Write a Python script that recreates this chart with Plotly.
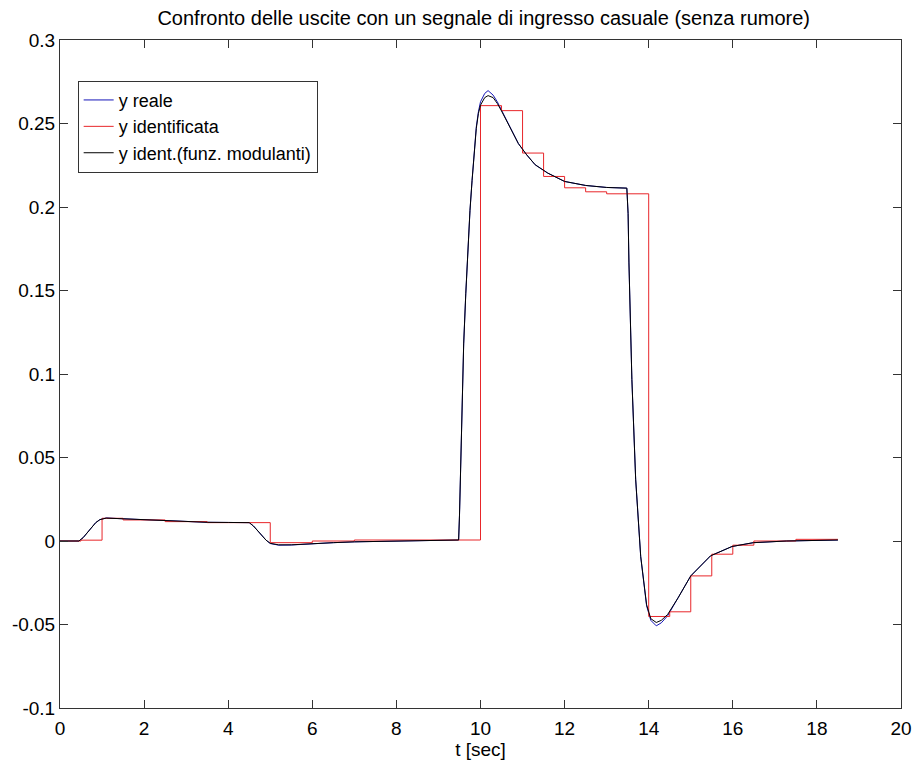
import plotly.graph_objects as go

# ---------------- data ----------------
t_curve = [0.0, 0.45, 0.55, 0.65, 0.75, 0.85, 0.95, 1.1, 1.5, 2.0, 2.5, 3.0, 3.5, 4.0, 4.5,
           4.6, 4.7, 4.8, 4.9, 5.0, 5.2, 5.5, 6.0, 6.5, 7.0, 8.0, 9.0, 9.48,
           9.5, 9.55, 9.6, 9.65, 9.7, 9.75, 9.8, 9.85, 9.9, 9.95, 10.0, 10.1, 10.18, 10.3,
           10.4, 10.5, 10.7, 10.9, 11.1, 11.3, 11.6, 12.0, 12.5, 13.0, 13.48,
           13.51, 13.53, 13.56, 13.6, 13.69, 13.81, 13.95, 14.05, 14.18, 14.3, 14.45,
           14.7, 15.0, 15.47, 15.98, 16.49, 17.27, 18.5]

y_reale = [0.0, 0.0, 0.002, 0.005, 0.0085, 0.011, 0.0128, 0.0138, 0.0133, 0.0127, 0.0121, 0.0116, 0.0112, 0.0111, 0.011,
           0.009, 0.006, 0.003, 0.0005, -0.0015, -0.0025, -0.0024, -0.0016, -0.001, -0.0005, 0.0, 0.0004, 0.0006,
           0.015, 0.07, 0.118, 0.148, 0.176, 0.198, 0.216, 0.233, 0.248, 0.257, 0.263, 0.268, 0.2697, 0.267,
           0.263, 0.258, 0.248, 0.238, 0.2312, 0.2253, 0.2203, 0.2153, 0.2129, 0.2117, 0.2113,
           0.196, 0.1665, 0.1306, 0.0967, 0.037, -0.0095, -0.0388, -0.0475, -0.0508, -0.049, -0.0448,
           -0.034, -0.0209, -0.0089, -0.0033, -0.001, 0.0, 0.0006]

y_modul = [0.0, 0.0, 0.002, 0.005, 0.0085, 0.011, 0.0128, 0.0137, 0.0133, 0.0127, 0.0121, 0.0116, 0.0112, 0.0111, 0.011,
           0.009, 0.006, 0.003, 0.0005, -0.0014, -0.0023, -0.0023, -0.0015, -0.001, -0.0005, 0.0, 0.0004, 0.0006,
           0.015, 0.07, 0.118, 0.148, 0.176, 0.198, 0.216, 0.233, 0.247, 0.256, 0.261, 0.2655, 0.2667, 0.2655,
           0.262, 0.2575, 0.248, 0.238, 0.2312, 0.2253, 0.2203, 0.2153, 0.2129, 0.2117, 0.2113,
           0.196, 0.1665, 0.1306, 0.0967, 0.037, -0.0092, -0.0382, -0.0465, -0.0488, -0.0475, -0.0440,
           -0.034, -0.0209, -0.0089, -0.0033, -0.001, 0.0, 0.0006]

t_ident = [0.0, 0.5, 1.0, 1.5, 2.5, 3.5, 5.0, 6.0, 7.0, 10.0, 10.5, 11.0, 11.5, 12.0, 12.5, 13.0,
           14.0, 14.5, 15.0, 15.5, 16.0, 16.5, 17.5, 18.5]
y_ident = [0.0, 0.0005, 0.0136, 0.0126, 0.0116, 0.011, -0.001, 0.0, 0.0006, 0.2607, 0.2577, 0.2323, 0.2183,
           0.2115, 0.2091, 0.2079, -0.0452, -0.0424, -0.0209, -0.0079, -0.0025, 0.0, 0.001, 0.001]

x_ticks = [0, 2, 4, 6, 8, 10, 12, 14, 16, 18, 20]
y_ticks = [-0.1, -0.05, 0, 0.05, 0.1, 0.15, 0.2, 0.25, 0.3]
y_ticktext = ["-0.1", "-0.05", "0", "0.05", "0.1", "0.15", "0.2", "0.25", "0.3"]

title_text = "Confronto delle uscite con un segnale di ingresso casuale (senza rumore)"
x_label = "t [sec]"
names = ["y reale", "y identificata", "y ident.(funz. modulanti)"]

# ---------------- figure ----------------
FONT = "Liberation Sans, Arial, sans-serif"
fig = go.Figure()
fig.add_trace(go.Scatter(x=t_curve, y=y_reale, mode="lines", name=names[0],
                         line=dict(color="#1515b8", width=1)))
fig.add_trace(go.Scatter(x=t_ident, y=y_ident, mode="lines", name=names[1],
                         line=dict(color="#e8262a", width=1, shape="hv")))
fig.add_trace(go.Scatter(x=t_curve, y=y_modul, mode="lines", name=names[2],
                         line=dict(color="#000000", width=1)))

axis_common = dict(showline=True, linecolor="#333333", linewidth=1, mirror="ticks",
                   ticks="inside", ticklen=8, tickcolor="#333333", showgrid=False,
                   zeroline=False, tickfont=dict(family=FONT, size=19, color="#000000"))

fig.update_layout(
    width=924, height=764,
    margin=dict(l=59, r=15, t=40, b=55),
    paper_bgcolor="white", plot_bgcolor="white",
    title=dict(text=title_text, x=0.5235, xanchor="center", y=0.986, yanchor="top",
               font=dict(family=FONT, size=20, color="#000000")),
    xaxis=dict(range=[0, 20], tickvals=x_ticks, ticktext=[str(v) for v in x_ticks],
               ticklabelstandoff=3,
               title=dict(text=x_label, font=dict(family=FONT, size=19, color="#000000"), standoff=0),
               **axis_common),
    yaxis=dict(range=[-0.1, 0.3], tickvals=y_ticks, ticktext=y_ticktext, **axis_common),
    legend=dict(x=0.021, y=0.939, xanchor="left", yanchor="top",
                bgcolor="white", bordercolor="#333333", borderwidth=1,
                font=dict(family=FONT, size=18, color="#000000"),
                entrywidth=238, entrywidthmode="pixels",
                tracegroupgap=0),
    showlegend=True,
)

fig.write_html("out.html")
